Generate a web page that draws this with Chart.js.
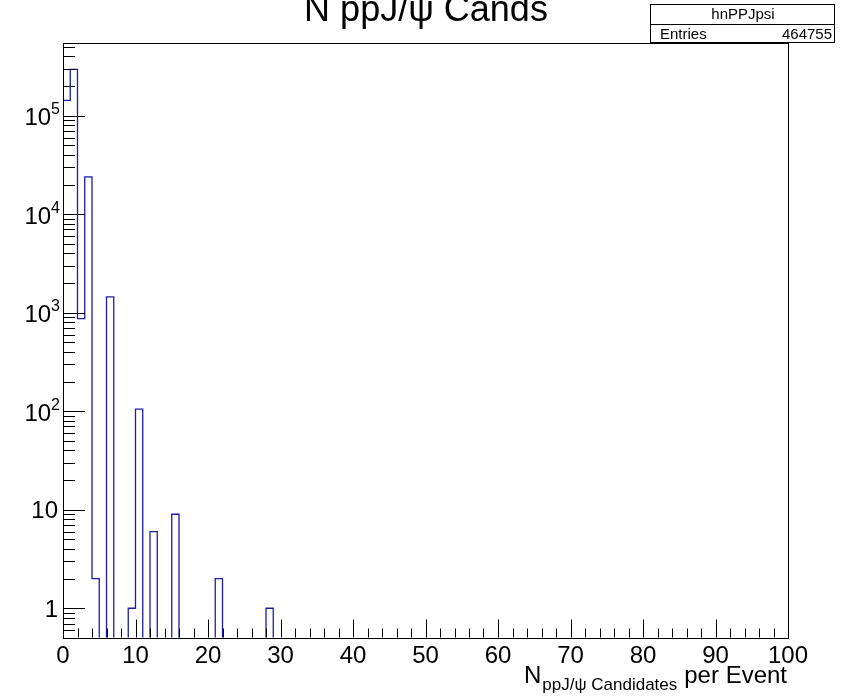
<!DOCTYPE html>
<html>
<head>
<meta charset="utf-8">
<script src="https://cdn.jsdelivr.net/npm/chart.js@4.4.1/dist/chart.umd.min.js"></script>
<style>
  html, body { margin: 0; padding: 0; background: #fff; }
  #wrap { width: 843px; height: 700px; }
</style>
</head>
<body>
<div id="wrap"><canvas id="hist" width="843" height="700"></canvas></div>
<script>
// histogram contents (only non-empty bins, bin width 1)
const binLow = [0, 1, 2, 3, 4, 6, 9, 10, 12, 15, 21, 28];
const binCounts = [143000, 295000, 870, 23900, 2, 1450, 1, 105, 6, 9, 2, 1];
const nBins = 100;
const xTickValues = [0, 10, 20, 30, 40, 50, 60, 70, 80, 90, 100];
const yDecades = [0, 1, 2, 3, 4, 5];
const yMin = 0.505;
const yMax = 553000;
const histName = 'hnPPJpsi';
const entriesText = '464755';

const FONT = '"Liberation Sans", Arial, Helvetica, sans-serif';
const lineBlue = 'rgb(28, 28, 165)';

// full bin list, empty bins drawn below the frame (clipped)
const emptyLevel = yMin / 10;
const counts = new Array(nBins).fill(emptyLevel);
binLow.forEach((b, i) => { counts[b] = binCounts[i]; });
const points = counts.map((c, i) => ({ x: i, y: c }));
points.push({ x: nBins, y: emptyLevel });

function crisp(v) { return Math.round(v) + 0.5; }

const rootFrame = {
    id: 'rootFrame',
    afterDraw(chart) {
        const ctx = chart.ctx;
        const a = chart.chartArea;
        const xs = chart.scales.x;
        const ys = chart.scales.y;
        ctx.save();
        ctx.strokeStyle = '#000';
        ctx.lineWidth = 1;

        // frame
        ctx.strokeRect(crisp(a.left), crisp(a.top), Math.round(a.right - a.left), Math.round(a.bottom - a.top));

        // y ticks (inside, from the left)
        ctx.beginPath();
        for (let k = -1; k <= 5; k++) {
            for (let m = 1; m <= 9; m++) {
                const v = m * Math.pow(10, k);
                if (v < yMin || v > yMax) continue;
                const y = crisp(ys.getPixelForValue(v));
                const len = m === 1 ? 22 : 12;
                ctx.moveTo(a.left, y);
                ctx.lineTo(a.left + len, y);
            }
        }
        // x ticks (inside, from the bottom)
        for (let v = 0; v <= 100; v += 2) {
            const x = crisp(xs.getPixelForValue(v));
            const len = v % 10 === 0 ? 18 : 9;
            ctx.moveTo(x, a.bottom);
            ctx.lineTo(x, a.bottom - len);
        }
        ctx.stroke();

        ctx.fillStyle = '#000';
        // y labels
        ctx.textBaseline = 'middle';
        const labRight = 59;
        yDecades.forEach(k => {
            const y = ys.getPixelForValue(Math.pow(10, k));
            if (k < 2) {
                ctx.font = '24px ' + FONT;
                ctx.textAlign = 'right';
                ctx.fillText(k === 0 ? '1' : '10', labRight - 1, y + 2);
            } else {
                ctx.font = '16px ' + FONT;
                const sw = ctx.measureText(String(k)).width;
                ctx.textAlign = 'left';
                ctx.fillText(String(k), labRight + 1 - sw, y - 6);
                ctx.font = '24px ' + FONT;
                ctx.textAlign = 'right';
                ctx.fillText('10', labRight + 1 - sw, y + 3);
            }
        });

        // x labels
        ctx.font = '24px ' + FONT;
        ctx.textAlign = 'center';
        ctx.textBaseline = 'alphabetic';
        xTickValues.forEach(v => {
            ctx.fillText(String(v), xs.getPixelForValue(v), a.bottom + 25);
        });

        // x axis title
        const tRight = 787;
        ctx.textAlign = 'right';
        ctx.font = '24px ' + FONT;
        ctx.fillText('per Event', tRight, 683);
        const w1 = ctx.measureText('per Event').width;
        ctx.font = '17px ' + FONT;
        const subRight = tRight - w1 - 7;
        ctx.fillText('ppJ/\u03c8 Candidates', subRight, 690);
        const w2 = ctx.measureText('ppJ/\u03c8 Candidates').width;
        ctx.font = '24px ' + FONT;
        ctx.fillText('N', subRight - w2 - 1, 683);

        // title (cut at the top of the canvas)
        ctx.textAlign = 'center';
        ctx.font = '36px ' + FONT;
        ctx.fillText('N ppJ/\u03c8 Cands', 426, 21);

        // stats box
        ctx.fillStyle = '#fff';
        ctx.fillRect(650, 4, 184, 38);
        ctx.strokeRect(650.5, 4.5, 184, 38);
        ctx.beginPath();
        ctx.moveTo(650, 24.5);
        ctx.lineTo(834, 24.5);
        ctx.stroke();
        ctx.fillStyle = '#000';
        ctx.font = '15px ' + FONT;
        ctx.textAlign = 'center';
        ctx.fillText(histName, 743, 19);
        ctx.textAlign = 'left';
        ctx.fillText('Entries', 660, 39);
        ctx.textAlign = 'right';
        ctx.fillText(entriesText, 832, 39);
        ctx.restore();
    }
};

const chart = new Chart(document.getElementById('hist'), {
    type: 'line',
    data: {
        datasets: [{
            label: histName,
            data: points,
            stepped: true,
            borderColor: lineBlue,
            borderWidth: 1.3,
            pointRadius: 0,
            fill: false
        }]
    },
    options: {
        responsive: false,
        animation: false,
        devicePixelRatio: 1,
        layout: { padding: { left: 63, right: 55, top: 42.5, bottom: 62.5 } },
        plugins: {
            legend: { display: false },
            tooltip: { enabled: false }
        },
        scales: {
            x: { type: 'linear', min: 0, max: 100, display: false },
            y: { type: 'logarithmic', min: yMin, max: yMax, display: false }
        }
    },
    plugins: [rootFrame]
});
</script>
</body>
</html>
